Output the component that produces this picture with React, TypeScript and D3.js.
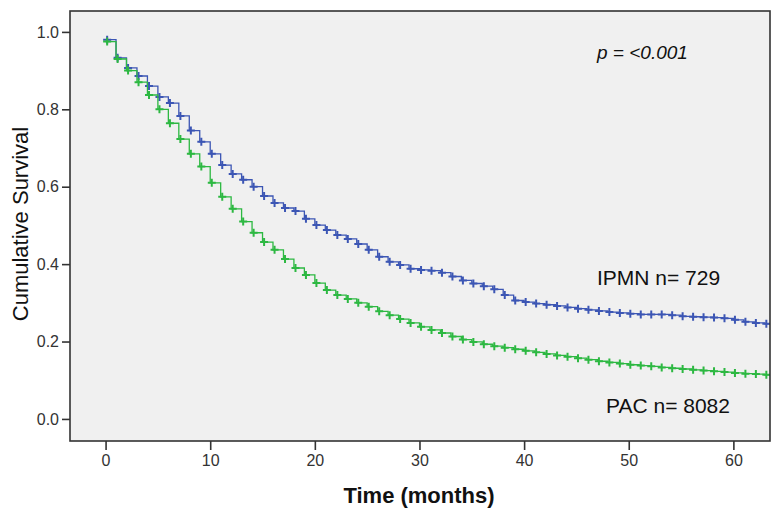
import React, { useEffect, useRef } from 'react';
import * as d3 from 'd3';

// survival estimates read at each month (0..63)
const months = d3.range(0, 64);
const ipmnSurvival = [
  0.98, 0.933, 0.907, 0.886, 0.86, 0.832, 0.816, 0.783, 0.745, 0.716,
  0.685, 0.656, 0.633, 0.618, 0.6, 0.576, 0.558, 0.545, 0.537, 0.517,
  0.501, 0.488, 0.475, 0.465, 0.452, 0.437, 0.419, 0.406, 0.398, 0.388,
  0.385, 0.383, 0.378, 0.368, 0.358, 0.35, 0.343, 0.335, 0.32, 0.306,
  0.302, 0.298, 0.295, 0.292, 0.288, 0.285, 0.282, 0.279, 0.276, 0.274,
  0.272, 0.27, 0.27, 0.27, 0.268, 0.265, 0.264, 0.263, 0.262, 0.26,
  0.256, 0.251, 0.248, 0.246,
];
const pacSurvival = [
  0.975, 0.93, 0.9, 0.87, 0.837, 0.8, 0.764, 0.723, 0.685, 0.652,
  0.61, 0.574, 0.543, 0.51, 0.481, 0.457, 0.437, 0.413, 0.39, 0.372,
  0.351, 0.333, 0.32, 0.31, 0.3, 0.29, 0.278, 0.268, 0.258, 0.248,
  0.238, 0.23, 0.222, 0.213, 0.205, 0.199, 0.193, 0.188, 0.184, 0.18,
  0.176, 0.172, 0.168, 0.164, 0.161, 0.157, 0.153, 0.149, 0.146, 0.143,
  0.14, 0.138, 0.136, 0.133, 0.131, 0.129, 0.127, 0.125, 0.123, 0.121,
  0.119, 0.117, 0.116, 0.114,
];
const xTicks = [0, 10, 20, 30, 40, 50, 60];
const yTicks = [0, 0.2, 0.4, 0.6, 0.8, 1.0];

const series = [
  { name: 'IPMN', values: ipmnSurvival, color: '#3c56b4', label: 'IPMN n= 729' },
  { name: 'PAC', values: pacSurvival, color: '#2db842', label: 'PAC n= 8082' },
];

const App: React.FC = () => {
  const svgRef = useRef<SVGSVGElement>(null);
  const width = 781;
  const height = 516;

  useEffect(() => {
    if (!svgRef.current) return;
    const svg = d3.select(svgRef.current);
    svg.selectAll('*').remove();

    const left = 70, right = 770, top = 11, bottom = 441;
    const font = '"Liberation Sans", Arial, sans-serif';

    const x = d3.scaleLinear().domain([-3.4, 63.5]).range([left, right]);
    const y = d3.scaleLinear().domain([-0.057, 1.054]).range([bottom, top]);

    svg.append('defs').append('clipPath').attr('id', 'plotClip')
      .append('rect').attr('x', left).attr('y', top)
      .attr('width', right - left).attr('height', bottom - top);

    svg.append('rect')
      .attr('x', left).attr('y', top)
      .attr('width', right - left).attr('height', bottom - top)
      .attr('fill', '#f0f0f0');

    const plot = svg.append('g').attr('clip-path', 'url(#plotClip)');

    series.forEach(s => {
      const pts: [number, number][] = months.map((m, i) => [m, s.values[i]]);
      pts.push([63.5, s.values[s.values.length - 1]]);
      const line = d3.line<[number, number]>()
        .x(d => x(d[0]))
        .y(d => y(d[1]))
        .curve(d3.curveStepAfter);
      plot.append('path')
        .attr('d', line(pts) || '')
        .attr('fill', 'none')
        .attr('stroke', s.color)
        .attr('stroke-width', 1.3);

      // censor marks
      plot.selectAll(null)
        .data(months)
        .join('path')
        .attr('d', (m, i) => {
          const cx = x(m + 0.15), cy = y(s.values[i]);
          return `M${cx - 4},${cy}H${cx + 4}M${cx},${cy - 4}V${cy + 4}`;
        })
        .attr('stroke', s.color)
        .attr('stroke-width', 2)
        .attr('fill', 'none');
    });

    // frame
    svg.append('rect')
      .attr('x', left).attr('y', top)
      .attr('width', right - left).attr('height', bottom - top)
      .attr('fill', 'none')
      .attr('stroke', '#333')
      .attr('stroke-width', 1.6);

    // axes
    const xAxis = svg.append('g')
      .attr('transform', `translate(0, ${bottom})`)
      .call(d3.axisBottom(x).tickValues(xTicks).tickSize(9).tickPadding(5).tickFormat(d3.format('d')));
    xAxis.select('.domain').remove();
    xAxis.selectAll('line').attr('stroke', '#333').attr('stroke-width', 1.6);
    xAxis.selectAll('text').attr('font-family', font).attr('font-size', 16).attr('fill', '#333');

    const yAxis = svg.append('g')
      .attr('transform', `translate(${left}, 0)`)
      .call(d3.axisLeft(y).tickValues(yTicks).tickSize(8).tickPadding(3).tickFormat(d3.format('.1f')));
    yAxis.select('.domain').remove();
    yAxis.selectAll('line').attr('stroke', '#333').attr('stroke-width', 1.6);
    yAxis.selectAll('text').attr('font-family', font).attr('font-size', 16).attr('fill', '#333');

    // axis titles
    svg.append('text')
      .attr('x', 419).attr('y', 503)
      .attr('text-anchor', 'middle')
      .attr('font-family', font)
      .attr('font-size', 22)
      .attr('font-weight', 'bold')
      .attr('fill', '#111')
      .text('Time (months)');

    svg.append('text')
      .attr('transform', `translate(28, ${(top + bottom) / 2 - 2}) rotate(-90)`)
      .attr('text-anchor', 'middle')
      .attr('font-family', font)
      .attr('font-size', 22)
      .attr('fill', '#111')
      .text('Cumulative Survival');

    // annotations
    svg.append('text')
      .attr('x', 597).attr('y', 59)
      .attr('font-family', font)
      .attr('font-size', 19)
      .attr('font-style', 'italic')
      .attr('fill', '#111')
      .text('p = <0.001');

    svg.append('text')
      .attr('x', 597).attr('y', 285)
      .attr('font-family', font)
      .attr('font-size', 21)
      .attr('fill', '#111')
      .text(series[0].label);

    svg.append('text')
      .attr('x', 606).attr('y', 413)
      .attr('font-family', font)
      .attr('font-size', 21)
      .attr('fill', '#111')
      .text(series[1].label);
  }, []);

  return (
    <svg
      ref={svgRef}
      width={width}
      height={height}
      style={{ position: 'absolute', left: 0, top: 0, background: '#fff' }}
    />
  );
};

export default App;
